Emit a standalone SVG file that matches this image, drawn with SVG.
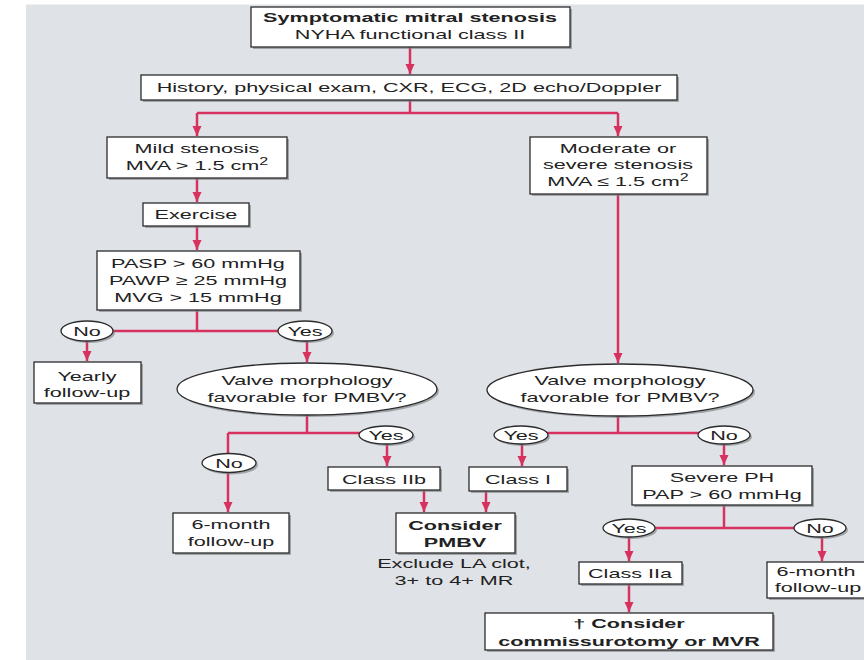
<svg xmlns="http://www.w3.org/2000/svg" width="864" height="660" viewBox="0 0 864 660">
  <style>
    .box { fill: #ffffff; stroke: #2b2b2b; stroke-width: 1.3; }
    .sh { fill: #7f8387; opacity: 0.65; }
    .t { font-family: "Liberation Sans", Arial, sans-serif; font-size: 13.5px; fill: #222222; text-anchor: middle; }
    .b { font-weight: bold; }
    .sup { font-size: 10px; }
    .wire { fill: none; stroke: #d6315f; stroke-width: 2.5; }
    .arr { marker-end: url(#head); }
  </style>
  <defs>
    <marker id="head" markerWidth="10" markerHeight="10" refX="10" refY="5" orient="auto" markerUnits="userSpaceOnUse">
      <path d="M0,0.5 L10,5 L0,9.5 z" fill="#d6315f"/>
    </marker>
  </defs>

  <!-- page -->
  <rect x="0" y="0" width="864" height="660" fill="#ffffff"/>
  <rect x="26" y="4.5" width="838" height="655.5" fill="#dfe3e7"/>

  <!-- connectors -->
  <g id="connectors">
    <path class="wire arr" d="M410 47 V74"/>
    <path class="wire" d="M410 100 V113 M197 113 H618"/>
    <path class="wire arr" d="M197 113 V136"/>
    <path class="wire arr" d="M618 113 V136"/>
    <path class="wire arr" d="M197 178 V202"/>
    <path class="wire arr" d="M197 226 V250"/>
    <path class="wire" d="M197 310 V331 M87 331 H305"/>
    <path class="wire arr" d="M87 341 V361"/>
    <path class="wire arr" d="M307 341 V362"/>
    <path class="wire" d="M307 415 V433 M228 433 H386 M228 433 V460"/>
    <path class="wire arr" d="M387 443 V466"/>
    <path class="wire arr" d="M228 472 V512"/>
    <path class="wire arr" d="M424 490 V512"/>
    <path class="wire arr" d="M486 491 V512"/>
    <path class="wire arr" d="M618 194 V363"/>
    <path class="wire" d="M618 416 V433 M521 433 H724"/>
    <path class="wire arr" d="M522 444 V466"/>
    <path class="wire arr" d="M724 444 V465"/>
    <path class="wire" d="M724 505 V528 M629 528 H820"/>
    <path class="wire arr" d="M629 537 V561"/>
    <path class="wire arr" d="M629 584 V612"/>
    <path class="wire arr" d="M822 537 V561"/>
  </g>

  <!-- nodes -->
  <g id="n-start">
    <rect class="sh" x="253" y="9" width="319" height="40"/>
    <rect class="box" x="251" y="7" width="319" height="40"/>
    <text class="t b" transform="matrix(1.6 0 0 1 410 22)">Symptomatic mitral stenosis</text>
    <text class="t" transform="matrix(1.6 0 0 1 410 39)">NYHA functional class II</text>
  </g>

  <g id="n-workup">
    <rect class="sh" x="143" y="77" width="536" height="25"/>
    <rect class="box" x="141" y="75" width="536" height="25"/>
    <text class="t" transform="matrix(1.6 0 0 1 409 92)">History, physical exam, CXR, ECG, 2D echo/Doppler</text>
  </g>

  <g id="n-mild">
    <rect class="sh" x="109" y="139" width="180" height="41"/>
    <rect class="box" x="107" y="137" width="180" height="41"/>
    <text class="t" transform="matrix(1.6 0 0 1 197 153)">Mild stenosis</text>
    <text class="t" transform="matrix(1.6 0 0 1 197 170)">MVA &gt; 1.5 cm<tspan class="sup" dy="-5">2</tspan></text>
  </g>

  <g id="n-exercise">
    <rect class="sh" x="145" y="205" width="106" height="23"/>
    <rect class="box" x="143" y="203" width="106" height="23"/>
    <text class="t" transform="matrix(1.6 0 0 1 196 219)">Exercise</text>
  </g>

  <g id="n-pressures">
    <rect class="sh" x="99" y="253" width="203" height="59"/>
    <rect class="box" x="97" y="251" width="203" height="59"/>
    <text class="t" transform="matrix(1.6 0 0 1 198 268)">PASP &gt; 60 mmHg</text>
    <text class="t" transform="matrix(1.6 0 0 1 198 285)">PAWP ≥ 25 mmHg</text>
    <text class="t" transform="matrix(1.6 0 0 1 198 302)">MVG &gt; 15 mmHg</text>
  </g>

  <g id="n-no-exercise">
    <ellipse class="sh" cx="89" cy="333" rx="26" ry="10"/>
    <ellipse class="box" cx="87" cy="331" rx="26" ry="10"/>
    <text class="t" transform="matrix(1.6 0 0 1 87 336)">No</text>
  </g>

  <g id="n-yes-exercise">
    <ellipse class="sh" cx="307" cy="333" rx="27" ry="10"/>
    <ellipse class="box" cx="305" cy="331" rx="27" ry="10"/>
    <text class="t" transform="matrix(1.6 0 0 1 305 336)">Yes</text>
  </g>

  <g id="n-yearly">
    <rect class="sh" x="36" y="364" width="107" height="41"/>
    <rect class="box" x="34" y="362" width="107" height="41"/>
    <text class="t" transform="matrix(1.6 0 0 1 87 381)">Yearly</text>
    <text class="t" transform="matrix(1.6 0 0 1 87 397)">follow-up</text>
  </g>

  <g id="n-valve-mild">
    <ellipse class="sh" cx="309" cy="391" rx="130" ry="26"/>
    <ellipse class="box" cx="307" cy="389" rx="130" ry="26"/>
    <text class="t" transform="matrix(1.6 0 0 1 307 385)">Valve morphology</text>
    <text class="t" transform="matrix(1.6 0 0 1 307 402)">favorable for PMBV?</text>
  </g>

  <g id="n-no-valve-mild">
    <ellipse class="sh" cx="231" cy="465" rx="27" ry="9.5"/>
    <ellipse class="box" cx="229" cy="463" rx="27" ry="9.5"/>
    <text class="t" transform="matrix(1.6 0 0 1 229 468)">No</text>
  </g>

  <g id="n-yes-valve-mild">
    <ellipse class="sh" cx="388" cy="437" rx="27" ry="9"/>
    <ellipse class="box" cx="386" cy="435" rx="27" ry="9"/>
    <text class="t" transform="matrix(1.6 0 0 1 386 440)">Yes</text>
  </g>

  <g id="n-class-2b">
    <rect class="sh" x="330" y="469" width="112" height="23"/>
    <rect class="box" x="328" y="467" width="112" height="23"/>
    <text class="t" transform="matrix(1.6 0 0 1 384 484)">Class IIb</text>
  </g>

  <g id="n-six-month-left">
    <rect class="sh" x="175" y="515" width="116" height="40"/>
    <rect class="box" x="173" y="513" width="116" height="40"/>
    <text class="t" transform="matrix(1.6 0 0 1 231 529)">6-month</text>
    <text class="t" transform="matrix(1.6 0 0 1 231 546)">follow-up</text>
  </g>

  <g id="n-pmbv">
    <rect class="sh" x="398" y="515" width="119" height="40"/>
    <rect class="box" x="396" y="513" width="119" height="40"/>
    <text class="t b" transform="matrix(1.6 0 0 1 455 530)">Consider</text>
    <text class="t b" transform="matrix(1.6 0 0 1 455 547)">PMBV</text>
  </g>

  <g id="n-pmbv-note">
    <text class="t" transform="matrix(1.6 0 0 1 454 568)">Exclude LA clot,</text>
    <text class="t" transform="matrix(1.6 0 0 1 454 585)">3+ to 4+ MR</text>
  </g>

  <g id="n-moderate">
    <rect class="sh" x="532" y="139" width="177" height="57"/>
    <rect class="box" x="530" y="137" width="177" height="57"/>
    <text class="t" transform="matrix(1.6 0 0 1 618 153)">Moderate or</text>
    <text class="t" transform="matrix(1.6 0 0 1 618 169)">severe stenosis</text>
    <text class="t" transform="matrix(1.6 0 0 1 618 186)">MVA ≤ 1.5 cm<tspan class="sup" dy="-5">2</tspan></text>
  </g>

  <g id="n-valve-severe">
    <ellipse class="sh" cx="622" cy="392" rx="133" ry="26"/>
    <ellipse class="box" cx="620" cy="390" rx="133" ry="26"/>
    <text class="t" transform="matrix(1.6 0 0 1 620 385)">Valve morphology</text>
    <text class="t" transform="matrix(1.6 0 0 1 620 402)">favorable for PMBV?</text>
  </g>

  <g id="n-yes-valve-severe">
    <ellipse class="sh" cx="523" cy="437" rx="27" ry="9"/>
    <ellipse class="box" cx="521" cy="435" rx="27" ry="9"/>
    <text class="t" transform="matrix(1.6 0 0 1 521 440)">Yes</text>
  </g>

  <g id="n-no-valve-severe">
    <ellipse class="sh" cx="726" cy="437" rx="26" ry="9"/>
    <ellipse class="box" cx="724" cy="435" rx="26" ry="9"/>
    <text class="t" transform="matrix(1.6 0 0 1 724 440)">No</text>
  </g>

  <g id="n-class-1">
    <rect class="sh" x="471" y="469" width="98" height="24"/>
    <rect class="box" x="469" y="467" width="98" height="24"/>
    <text class="t" transform="matrix(1.6 0 0 1 518 484)">Class I</text>
  </g>

  <g id="n-severe-ph">
    <rect class="sh" x="634" y="468" width="180" height="39"/>
    <rect class="box" x="632" y="466" width="180" height="39"/>
    <text class="t" transform="matrix(1.6 0 0 1 722 482)">Severe PH</text>
    <text class="t" transform="matrix(1.6 0 0 1 722 499)">PAP &gt; 60 mmHg</text>
  </g>

  <g id="n-yes-ph">
    <ellipse class="sh" cx="631" cy="530" rx="26" ry="9"/>
    <ellipse class="box" cx="629" cy="528" rx="26" ry="9"/>
    <text class="t" transform="matrix(1.6 0 0 1 629 533)">Yes</text>
  </g>

  <g id="n-no-ph">
    <ellipse class="sh" cx="822" cy="530" rx="26" ry="9"/>
    <ellipse class="box" cx="820" cy="528" rx="26" ry="9"/>
    <text class="t" transform="matrix(1.6 0 0 1 820 533)">No</text>
  </g>

  <g id="n-class-2a">
    <rect class="sh" x="581" y="564" width="103" height="22"/>
    <rect class="box" x="579" y="562" width="103" height="22"/>
    <text class="t" transform="matrix(1.6 0 0 1 630 578)">Class IIa</text>
  </g>

  <g id="n-six-month-right">
    <rect class="sh" x="769" y="564" width="110" height="36"/>
    <rect class="box" x="767" y="562" width="110" height="36"/>
    <text class="t" transform="matrix(1.6 0 0 1 816 576)">6-month</text>
    <text class="t" transform="matrix(1.6 0 0 1 818 592)">follow-up</text>
  </g>

  <g id="n-surgery">
    <rect class="sh" x="487" y="615" width="288" height="37"/>
    <rect class="box" x="485" y="613" width="288" height="37"/>
    <text class="t b" transform="matrix(1.6 0 0 1 629 628)">† Consider</text>
    <text class="t b" transform="matrix(1.6 0 0 1 629 646)">commissurotomy or MVR</text>
  </g>
</svg>
